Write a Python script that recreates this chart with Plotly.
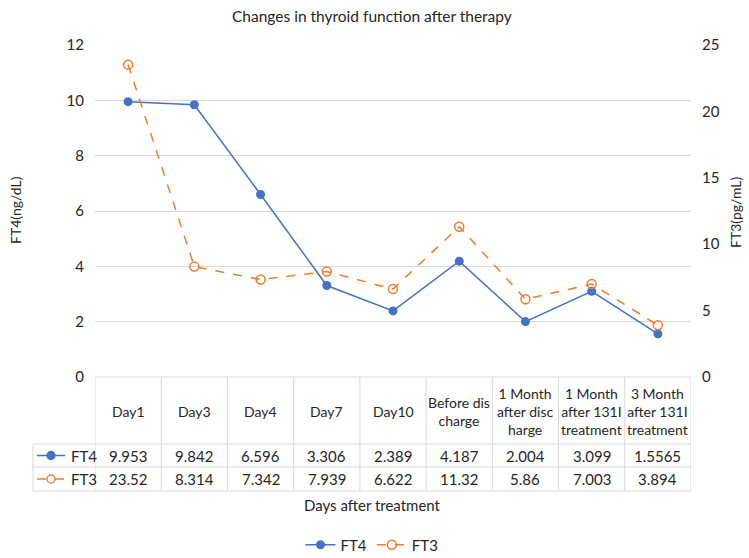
import plotly.graph_objects as go

categories = ["Day1", "Day3", "Day4", "Day7", "Day10", "Before dis<br>charge",
              "1 Month<br>after disc<br>harge", "1 Month<br>after 131I<br>treatment",
              "3 Month<br>after 131I<br>treatment"]
ft4 = [9.953, 9.842, 6.596, 3.306, 2.389, 4.187, 2.004, 3.099, 1.5565]
ft3 = [23.52, 8.314, 7.342, 7.939, 6.622, 11.32, 5.86, 7.003, 3.894]

FONT = "Lato"
TXT = "#262626"
GRID = "#d9d9d9"
BLUE = "#4472C4"
ORANGE = "#ED7D31"

W, H = 749, 558
# plot area in page pixels: x 95..691, y 45..377
L, R, T, B = 95, 749 - 691, 45, 558 - 377
PW, PH = W - L - R, H - T - B

def px_x(x):
    return (x - L) / PW

def px_y(y):
    return (H - B - y) / PH

xs = list(range(len(categories)))

fig = go.Figure()
fig.add_trace(go.Scatter(x=xs, y=ft4, name="FT4", mode="lines+markers",
                         line=dict(color=BLUE, width=1.5),
                         marker=dict(symbol="circle", size=9, color=BLUE)))
fig.add_trace(go.Scatter(x=xs, y=ft3, name="FT3", mode="lines+markers", yaxis="y2",
                         line=dict(color=ORANGE, width=1.5, dash="dash"),
                         marker=dict(symbol="circle-open", size=9, color=ORANGE,
                                     line=dict(width=1.5))))

shapes = []
ann = []
y_head_top = px_y(377)
y_r1 = px_y(444)
y_r2 = px_y(467)
y_bot = px_y(491)
x_leg = px_x(33)

# horizontal table lines
for yy in [y_r1, y_r2, y_bot]:
    shapes.append(dict(type="line", xref="paper", yref="paper", x0=x_leg, x1=1,
                       y0=yy, y1=yy, line=dict(color=GRID, width=1)))
shapes.append(dict(type="line", xref="paper", yref="paper", x0=0, x1=1,
                   y0=y_head_top, y1=y_head_top, line=dict(color=GRID, width=1)))
# vertical lines
for i in range(len(categories) + 1):
    shapes.append(dict(type="line", xref="x", yref="paper", x0=i - 0.5, x1=i - 0.5,
                       y0=y_bot, y1=y_head_top, line=dict(color=GRID, width=1)))
shapes.append(dict(type="line", xref="paper", yref="paper", x0=x_leg, x1=x_leg,
                   y0=y_bot, y1=y_r1, line=dict(color=GRID, width=1)))

# header and values
for i, c in enumerate(categories):
    ann.append(dict(x=i, y=px_y(411), xref="x", yref="paper", text=c, showarrow=False,
                    font=dict(family=FONT, size=14, color=TXT), yanchor="middle"))
    ann.append(dict(x=i, y=(y_r1 + y_r2) / 2, xref="x", yref="paper", text=str(ft4[i]),
                    showarrow=False, yanchor="middle",
                    font=dict(family=FONT, size=15, color=TXT)))
    ann.append(dict(x=i, y=(y_r2 + y_bot) / 2, xref="x", yref="paper", text=str(ft3[i]),
                    showarrow=False, yanchor="middle",
                    font=dict(family=FONT, size=15, color=TXT)))

# legend keys in table
for (yy, col, dash, name, fill) in [((y_r1 + y_r2) / 2, BLUE, "solid", "FT4", BLUE),
                                    ((y_r2 + y_bot) / 2, ORANGE, "dash", "FT3", "white")]:
    shapes.append(dict(type="line", xref="paper", yref="paper", x0=px_x(37), x1=px_x(65),
                       y0=yy, y1=yy, line=dict(color=col, width=1.5, dash=dash)))
    rx, ry = 4 / PW, 4 / PH
    cx = px_x(51)
    shapes.append(dict(type="circle", xref="paper", yref="paper", x0=cx - rx, x1=cx + rx,
                       y0=yy - ry, y1=yy + ry, fillcolor=fill,
                       line=dict(color=col, width=1.3)))
    ann.append(dict(x=px_x(69), y=yy, xref="paper", yref="paper", text=name,
                    showarrow=False, xanchor="left", yanchor="middle",
                    font=dict(family=FONT, size=15, color=TXT)))

# axis titles
ann.append(dict(x=px_x(15), y=px_y(210), xref="paper", yref="paper", text="FT4(ng/dL)",
                textangle=-90, showarrow=False, xanchor="center", yanchor="middle",
                font=dict(family=FONT, size=14, color=TXT)))
ann.append(dict(x=px_x(735), y=px_y(212), xref="paper", yref="paper", text="FT3(pg/mL)",
                textangle=-90, showarrow=False, xanchor="center", yanchor="middle",
                font=dict(family=FONT, size=14, color=TXT)))
ann.append(dict(x=px_x(372), y=px_y(505), xref="paper", yref="paper",
                text="Days after treatment", showarrow=False, yanchor="middle",
                font=dict(family=FONT, size=15, color=TXT)))
ann.append(dict(x=px_x(372), y=px_y(16), xref="paper", yref="paper",
                text="Changes in thyroid function after therapy", showarrow=False,
                yanchor="middle", font=dict(family=FONT, size=15.5, color=TXT)))

fig.update_layout(
    width=W, height=H,
    margin=dict(l=L, r=R, t=T, b=B, autoexpand=False),
    paper_bgcolor="white", plot_bgcolor="white",
    font=dict(family=FONT, size=15, color=TXT),
    xaxis=dict(range=[-0.5, len(categories) - 0.5], showticklabels=False,
               showgrid=False, zeroline=False, showline=False, fixedrange=True),
    yaxis=dict(range=[0, 12], dtick=2, showgrid=True, gridcolor=GRID, gridwidth=1,
               zeroline=False, showline=False, ticks="", ticklabelstandoff=10,
               tickfont=dict(family=FONT, size=15, color=TXT)),
    yaxis2=dict(range=[0, 25], dtick=5, overlaying="y", side="right", showgrid=False,
                zeroline=False, showline=False, ticks="", ticklabelstandoff=10,
                tickfont=dict(family=FONT, size=15, color=TXT)),
    showlegend=True,
    legend=dict(orientation="h", x=px_x(372), xanchor="center", y=px_y(545),
                yanchor="middle", font=dict(family=FONT, size=15, color=TXT)),
    shapes=shapes,
    annotations=ann,
)

fig.write_html("out.html",
               config={"displayModeBar": False},
               post_script="document.body.style.margin='0';"
                           "document.body.style.overflow='hidden';")
